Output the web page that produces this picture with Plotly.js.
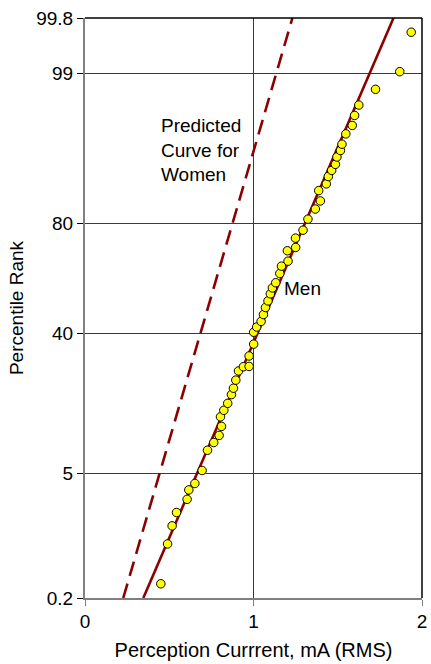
<!DOCTYPE html>
<html>
<head>
<meta charset="utf-8">
<script src="https://cdn.plot.ly/plotly-3.0.1.min.js"></script>
<style>
html,body{margin:0;padding:0;background:#ffffff;}
#chart{width:431px;height:664px;}
</style>
</head>
<body>
<div id="chart"></div>
<script>
// ---- data ----
const currentMen = [0.450,0.490,0.517,0.543,0.606,0.616,0.652,0.695,0.727,0.764,0.796,0.810,0.804,0.824,0.847,0.869,0.881,0.895,0.911,0.940,0.974,0.974,1.001,1.001,1.019,1.045,1.059,1.071,1.086,1.100,1.112,1.132,1.156,1.166,1.205,1.201,1.250,1.249,1.294,1.323,1.367,1.397,1.387,1.432,1.444,1.464,1.486,1.495,1.516,1.525,1.548,1.586,1.600,1.625,1.724,1.868,1.936];
const percentileMen = [0.31,0.96,1.53,2.12,2.88,3.55,4.08,5.34,7.90,9.09,10.3,12.0,14.0,15.5,17.2,19.5,21.3,23.7,26.6,28.0,28.1,31.7,36.0,40.5,42.5,44.7,47.4,50.2,52.8,55.6,57.9,59.9,63.4,66.1,67.9,71.5,72.6,75.6,78.0,81.1,83.7,85.6,87.8,89.1,90.4,91.4,92.3,93.3,94.1,94.8,95.8,96.5,97.2,97.8,98.5,99.05,99.69];
const menFitCurrent = [0.346, 1.831];
const menFitPercentile = [0.2, 99.8];
const womenCurrent = [0.227, 1.231];
const womenPercentile = [0.2, 99.8];
const yTickPercentiles = [0.2, 5, 40, 80, 99, 99.8];
const yTickLabels = ['0.2', '5', '40', '80', '99', '99.8'];
const xTickValues = [0, 1, 2];
const xTickLabels = ['0', '1', '2'];

// inverse standard normal CDF (Acklam) -> probability-paper scale
function probit(p) {
  const a = [-3.969683028665376e+01, 2.209460984245205e+02, -2.759285104469687e+02, 1.383577518672690e+02, -3.066479806614716e+01, 2.506628277459239e+00];
  const b = [-5.447609879822406e+01, 1.615858368580409e+02, -1.556989798598866e+02, 6.680131188771972e+01, -1.328068155288572e+01];
  const c = [-7.784894002430293e-03, -3.223964580411365e-01, -2.400758277161838e+00, -2.549732539343734e+00, 4.374664141464968e+00, 2.938163982698783e+00];
  const d = [7.784695709041462e-03, 3.224671290700398e-01, 2.445134137142996e+00, 3.754408661907416e+00];
  const plow = 0.02425, phigh = 1 - plow;
  let q, r;
  if (p < plow) {
    q = Math.sqrt(-2 * Math.log(p));
    return (((((c[0]*q+c[1])*q+c[2])*q+c[3])*q+c[4])*q+c[5]) / ((((d[0]*q+d[1])*q+d[2])*q+d[3])*q+1);
  } else if (p <= phigh) {
    q = p - 0.5; r = q * q;
    return (((((a[0]*r+a[1])*r+a[2])*r+a[3])*r+a[4])*r+a[5])*q / (((((b[0]*r+b[1])*r+b[2])*r+b[3])*r+b[4])*r+1);
  } else {
    q = Math.sqrt(-2 * Math.log(1 - p));
    return -(((((c[0]*q+c[1])*q+c[2])*q+c[3])*q+c[4])*q+c[5]) / ((((d[0]*q+d[1])*q+d[2])*q+d[3])*q+1);
  }
}
const toZ = pc => probit(pc / 100);

const DARKRED = '#8b0000';
const FONT = 'Liberation Sans, Arial, Helvetica, sans-serif';

const traces = [
  {
    x: womenCurrent, y: womenPercentile.map(toZ),
    type: 'scatter', mode: 'lines', name: 'Predicted Curve for Women',
    line: {color: DARKRED, width: 2.6, dash: '15px,8px'},
    hoverinfo: 'skip', showlegend: false
  },
  {
    x: menFitCurrent, y: menFitPercentile.map(toZ),
    type: 'scatter', mode: 'lines', name: 'Men (fit)',
    line: {color: DARKRED, width: 2.6},
    hoverinfo: 'skip', showlegend: false
  },
  {
    x: currentMen, y: percentileMen.map(toZ),
    type: 'scatter', mode: 'markers', name: 'Men',
    marker: {color: '#ffff00', size: 8.5, line: {color: '#000000', width: 1}},
    customdata: percentileMen,
    hovertemplate: '%{x:.2f} mA, %{customdata}%<extra></extra>',
    showlegend: false
  }
];

const layout = {
  width: 431, height: 664,
  margin: {l: 85, r: 9, t: 18, b: 66, pad: 0},
  paper_bgcolor: '#ffffff', plot_bgcolor: '#ffffff',
  font: {family: FONT, color: '#000000', size: 19},
  showlegend: false,
  xaxis: {
    range: [0, 2], tickvals: xTickValues, ticktext: xTickLabels,
    ticks: 'outside', ticklen: 6, tickwidth: 1, tickcolor: '#808080',
    showgrid: true, gridcolor: '#3a3a3a', gridwidth: 1,
    zeroline: false, showline: true, linecolor: '#808080', linewidth: 2,
    tickfont: {size: 19, family: FONT, color: '#000'},
    ticklabelstandoff: -1,
    title: {text: 'Perception Currrent, mA (RMS)', font: {size: 20, family: FONT, color: '#000'}, standoff: 12},
    automargin: false, fixedrange: true
  },
  yaxis: {
    range: [toZ(0.2), toZ(99.8)], tickvals: yTickPercentiles.map(toZ), ticktext: yTickLabels,
    ticks: 'outside', ticklen: 6, tickwidth: 1, tickcolor: '#000000',
    showgrid: true, gridcolor: '#3a3a3a', gridwidth: 1,
    zeroline: false, showline: true, linecolor: '#808080', linewidth: 2,
    tickfont: {size: 19, family: FONT, color: '#000'},
    ticklabelstandoff: 0,
    title: {text: 'Percentile Rank', font: {size: 19, family: FONT, color: '#000'}, standoff: 8},
    automargin: false, fixedrange: true
  },
  shapes: [
    {type: 'line', xref: 'paper', yref: 'paper', x0: 0, x1: 1, y0: 1, y1: 1, line: {color: '#000', width: 1.5}},
    {type: 'line', xref: 'paper', yref: 'paper', x0: 1, x1: 1, y0: 0, y1: 1, line: {color: '#000', width: 1.5}}
  ],
  annotations: [
    {text: 'Predicted<br>Curve for<br>Women', xref: 'paper', yref: 'paper', x: 0.219, y: 0.772,
     xanchor: 'left', yanchor: 'middle', align: 'left', showarrow: false,
     font: {size: 19, family: FONT, color: '#000'}},
    {text: 'Men', xref: 'paper', yref: 'paper', x: 0.585, y: 0.534,
     xanchor: 'left', yanchor: 'middle', align: 'left', showarrow: false,
     font: {size: 19, family: FONT, color: '#000'}}
  ]
};

Plotly.newPlot('chart', traces, layout, {displayModeBar: false, staticPlot: true});
</script>
</body>
</html>
